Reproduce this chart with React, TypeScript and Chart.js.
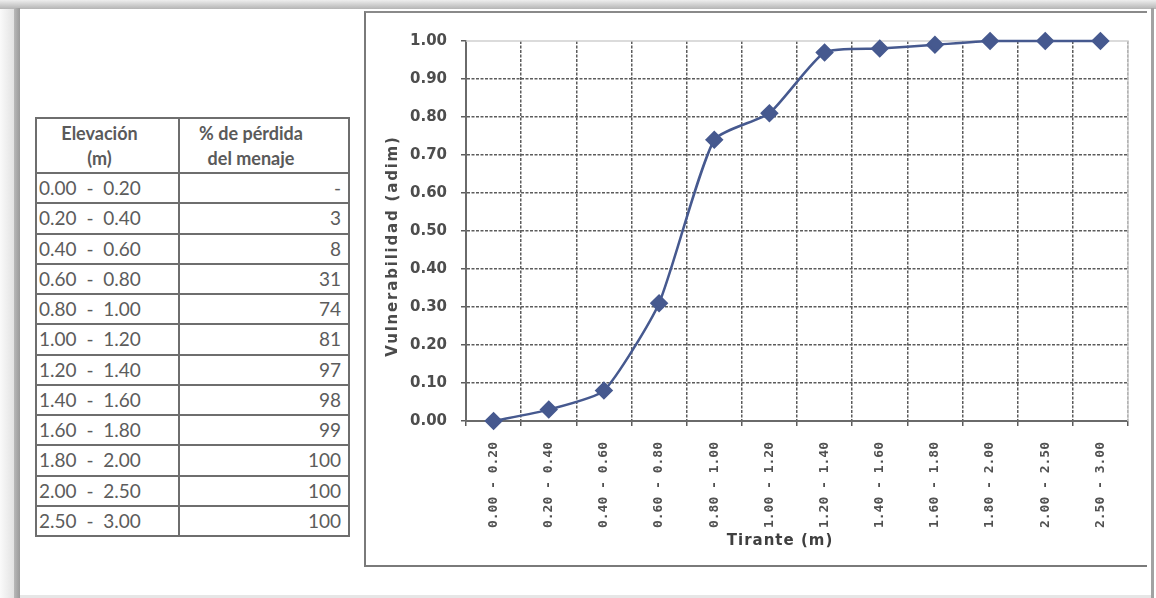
import React, { useEffect, useRef } from "react";
import { Chart, registerables } from "chart.js";

Chart.register(...registerables);

// ---- data ----
const categories = [
  "0.00 - 0.20",
  "0.20 - 0.40",
  "0.40 - 0.60",
  "0.60 - 0.80",
  "0.80 - 1.00",
  "1.00 - 1.20",
  "1.20 - 1.40",
  "1.40 - 1.60",
  "1.60 - 1.80",
  "1.80 - 2.00",
  "2.00 - 2.50",
  "2.50 - 3.00",
];
const lossPercent = ["-", "3", "8", "31", "74", "81", "97", "98", "99", "100", "100", "100"];
const vulnerability = [0.0, 0.03, 0.08, 0.31, 0.74, 0.81, 0.97, 0.98, 0.99, 1.0, 1.0, 1.0];
const tableHeaders = [["Elevación", "(m)"], ["% de pérdida", "del menaje"]];
const xTitle = "Tirante (m)";
const yTitle = "Vulnerabilidad (adim)";

const LINE = "#46598f";
const GRID = "#5c5c5c";

const framePlugin = {
  id: "frameAndTitles",
  beforeDatasetsDraw(chart: any) {
    const { ctx, chartArea: a } = chart;
    ctx.save();
    ctx.strokeStyle = "#cfcfcf";
    ctx.lineWidth = 1.5;
    ctx.beginPath();
    ctx.moveTo(a.left, a.top);
    ctx.lineTo(a.right, a.top);
    ctx.lineTo(a.right, a.bottom);
    ctx.stroke();
    ctx.restore();
  },
  afterDraw(chart: any) {
    const { ctx, chartArea: a } = chart;
    ctx.save();
    ctx.fillStyle = "#3f3f3f";
    ctx.font = "bold 15px 'DejaVu Sans'";
    (ctx as any).letterSpacing = "1px";
    ctx.textAlign = "center";
    ctx.textBaseline = "middle";
    ctx.fillText(xTitle, (a.left + a.right) / 2 - 17, a.bottom + 120);
    ctx.restore();

    ctx.save();
    ctx.fillStyle = "#4a4a4a";
    ctx.font = "bold 15px 'DejaVu Sans'";
    (ctx as any).letterSpacing = "1.8px";
    ctx.textAlign = "center";
    ctx.textBaseline = "middle";
    ctx.translate(27, (a.top + a.bottom) / 2 + 15);
    ctx.rotate(-Math.PI / 2);
    ctx.fillText(yTitle, 0, 0);
    ctx.restore();
  },
};

function VulnChart() {
  const ref = useRef<HTMLCanvasElement | null>(null);
  useEffect(() => {
    if (!ref.current) return;
    const chart = new Chart(ref.current, {
      type: "line",
      data: {
        labels: categories,
        datasets: [
          {
            data: vulnerability,
            borderColor: LINE,
            backgroundColor: LINE,
            borderWidth: 2.5,
            pointStyle: "rectRot",
            pointRadius: 7.5,
            pointHoverRadius: 7.5,
            pointBackgroundColor: LINE,
            pointBorderColor: LINE,
            tension: 0.18,
            clip: false as any,
          },
        ],
      },
      options: {
        animation: false,
        responsive: false,
        devicePixelRatio: 1,
        layout: { padding: { top: 28, right: 17, left: 0, bottom: 0 } },
        plugins: { legend: { display: false }, tooltip: { enabled: false } },
        scales: {
          x: {
            type: "category",
            offset: true,
            afterFit: (s: any) => {
              s.height = 144;
            },
            grid: {
              offset: true,
              color: (c: any) => (c.index === 12 ? "rgba(0,0,0,0)" : GRID),
              tickColor: GRID,
              lineWidth: 1.5,
              tickWidth: 1.5,
              tickLength: 5,
            },
            border: { display: true, color: "#6a6a6a", width: 2, dash: [3, 1.5] },
            ticks: {
              autoSkip: false,
              minRotation: 90,
              maxRotation: 90,
              padding: 16,
              color: "#505050",
              font: { family: "'DejaVu Sans Mono'", size: 13, weight: "bold" },
            },
          },
          y: {
            min: 0,
            max: 1,
            afterFit: (s: any) => {
              s.width = 100;
            },
            grid: {
              color: (c: any) => (c.tick && c.tick.value >= 1 ? "rgba(0,0,0,0)" : GRID),
              tickColor: GRID,
              lineWidth: 1.5,
              tickWidth: 1.5,
              tickLength: 5,
            },
            border: { display: true, color: "#6a6a6a", width: 2, dash: [3, 1.5] },
            ticks: {
              stepSize: 0.1,
              padding: 14,
              color: "#4d4d4d",
              font: { family: "'DejaVu Sans'", size: 15, weight: "bold" },
              callback: (v: any) => Number(v).toFixed(2),
            },
          },
        },
      },
      plugins: [framePlugin],
    } as any);
    return () => chart.destroy();
  }, []);
  return (
    <canvas
      ref={ref}
      width={779}
      height={552}
      style={{ position: "absolute", left: 366, top: 13, width: 779, height: 552 }}
    />
  );
}

const cellBorder = "2px solid #6e6e6e";

function DataTable() {
  return (
    <table
      style={{
        position: "absolute",
        left: 35,
        top: 117,
        width: 313,
        borderCollapse: "collapse",
        tableLayout: "fixed",
        fontFamily: "Lato, 'Open Sans', sans-serif",
        color: "#555",
      }}
    >
      <colgroup>
        <col style={{ width: 143 }} />
        <col style={{ width: 170 }} />
      </colgroup>
      <thead>
        <tr style={{ height: 55 }}>
          {tableHeaders.map((h, i) => (
            <th
              key={i}
              style={{
                border: cellBorder,
                fontWeight: "bold",
                fontSize: 18,
                lineHeight: "25px",
                padding: i === 0 ? "0 16px 0 0" : "0 26px 0 0",
                textAlign: "center",
                color: "#5a5a5a",
              }}
            >
              {h[0]}
              <br />
              {h[1]}
            </th>
          ))}
        </tr>
      </thead>
      <tbody>
        {categories.map((c, i) => (
          <tr key={i} style={{ height: 30.25 }}>
            <td
              style={{
                border: cellBorder,
                padding: "0 0 0 2px",
                fontSize: 19,
                lineHeight: "26px",
                wordSpacing: 5,
                whiteSpace: "nowrap",
                color: "#5c5c5c",
              }}
            >
              {c}
            </td>
            <td
              style={{
                border: cellBorder,
                padding: "0 7px 0 0",
                fontSize: 19,
                lineHeight: "26px",
                textAlign: "right",
                color: "#5c5c5c",
              }}
            >
              {lossPercent[i]}
            </td>
          </tr>
        ))}
      </tbody>
    </table>
  );
}

export default function App() {
  return (
    <div
      style={{
        position: "fixed",
        left: 0,
        top: 0,
        width: 1156,
        height: 598,
        background: "#ffffff",
        overflow: "hidden",
      }}
    >
      {/* outer frame */}
      <div
        style={{
          position: "absolute",
          left: 0,
          top: 0,
          width: 1156,
          height: 9,
          background: "linear-gradient(#eeeeee, #b4b4b4)",
        }}
      />
      <div
        style={{
          position: "absolute",
          left: 0,
          top: 9,
          width: 14,
          height: 589,
          background: "linear-gradient(to right, #fafafa, #e2e2e2)",
        }}
      />
      <div
        style={{
          position: "absolute",
          left: 14,
          top: 8,
          width: 6,
          height: 590,
          background: "linear-gradient(to right, #b8b8b8, #9a9a9a)",
        }}
      />
      <div
        style={{ position: "absolute", left: 1151, top: 8, width: 3, height: 590, background: "#a2a2a2" }}
      />
      <div
        style={{ position: "absolute", left: 20, top: 595, width: 1131, height: 3, background: "#e6e6e6" }}
      />
      {/* chart box */}
      <div
        style={{
          position: "absolute",
          left: 364,
          top: 11,
          width: 781,
          height: 552,
          borderLeft: "2px solid #7a7a7a",
          borderTop: "2px solid #8a8a8a",
          borderBottom: "2px solid #7a7a7a",
        }}
      />
      <DataTable />
      <VulnChart />
    </div>
  );
}
